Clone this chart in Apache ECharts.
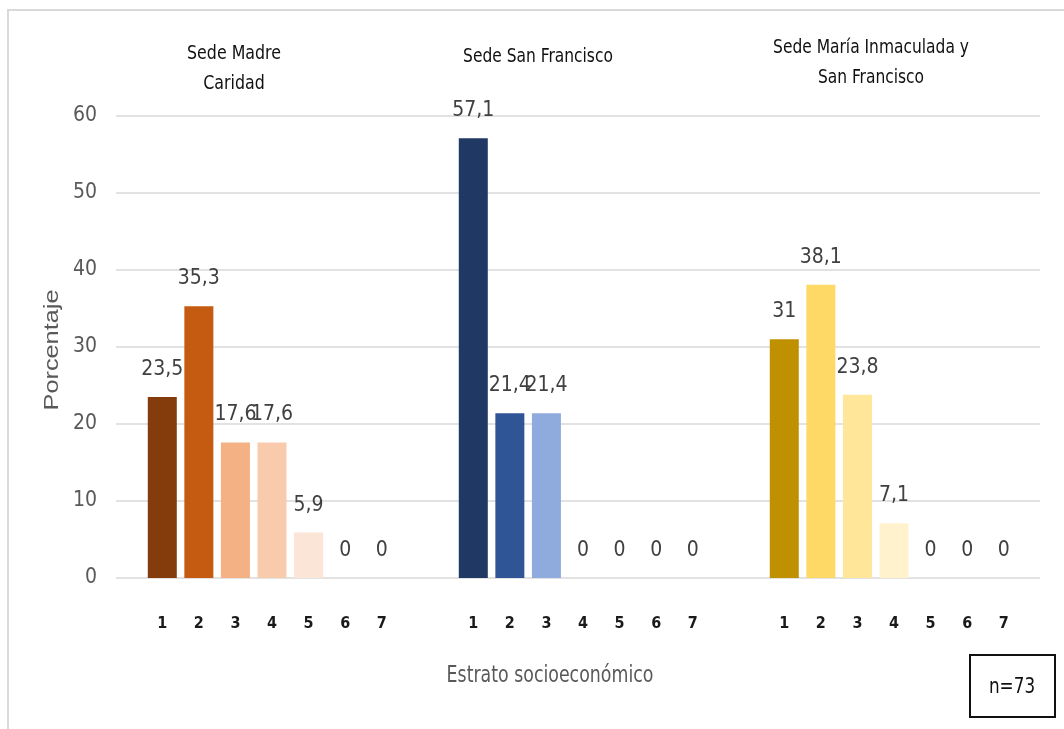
<!DOCTYPE html>
<html>
<head>
<meta charset="utf-8">
<script src="https://cdn.jsdelivr.net/npm/echarts@6/dist/echarts.min.js"></script>
<style>
html,body{margin:0;padding:0;background:#fff;}
#chart{width:1064px;height:729px;}
</style>
</head>
<body>
<div id="chart"></div>
<script>
// ---- data ----
const categories = ['1', '2', '3', '4', '5', '6', '7'];
const groupTitles = ['Sede Madre\nCaridad', 'Sede San Francisco', 'Sede María Inmaculada y\nSan Francisco'];
const sedeMadreCaridad = [23.5, 35.3, 17.6, 17.6, 5.9, 0, 0];
const sedeSanFrancisco = [57.1, 21.4, 21.4, 0, 0, 0, 0];
const sedeMariaInmaculada = [31, 38.1, 23.8, 7.1, 0, 0, 0];
const colorsMadre = ['#843C0C', '#C55A11', '#F4B183', '#F8CBAD', '#FBE5D6', '#FBE5D6', '#FBE5D6'];
const colorsSanFrancisco = ['#203864', '#2F5597', '#8FAADC', '#DAE3F3', '#DAE3F3', '#DAE3F3', '#DAE3F3'];
const colorsMaria = ['#BF9000', '#FFD966', '#FFE699', '#FFF2CC', '#FFF2CC', '#FFF2CC', '#FFF2CC'];
const yMin = 0, yMax = 60, yInterval = 10;
const yAxisTitle = 'Porcentaje';
const xAxisTitle = 'Estrato socioeconómico';
const sampleNote = 'n=73';

const FONT = "'Liberation Sans Narrow', 'DejaVu Sans Condensed', sans-serif";
const chart = echarts.init(document.getElementById('chart'), null, {renderer: 'canvas'});

const groups = [
  {data: sedeMadreCaridad, colors: colorsMadre, left: 144},
  {data: sedeSanFrancisco, colors: colorsSanFrancisco, left: 455},
  {data: sedeMariaInmaculada, colors: colorsMaria, left: 766}
];
const PLOT_TOP = 116, PLOT_H = 462, GROUP_W = 256;

const grids = [{left: 116, top: PLOT_TOP, width: 924, height: PLOT_H, outerBoundsMode: 'none', containLabel: false}];
const xAxes = [{gridIndex: 0, type: 'value', show: false, min: 0, max: 1}];
const yAxes = [{
  gridIndex: 0, type: 'value', min: yMin, max: yMax, interval: yInterval,
  axisLine: {show: false}, axisTick: {show: false},
  axisLabel: {color: '#595959', fontFamily: FONT, fontSize: 21, margin: 19},
  splitLine: {lineStyle: {color: '#d9d9d9', width: 1.5}}
}];
const series = [];
groups.forEach((g, i) => {
  const gi = i + 1;
  grids.push({left: g.left, top: PLOT_TOP, width: GROUP_W, height: PLOT_H, outerBoundsMode: 'none', containLabel: false});
  xAxes.push({
    gridIndex: gi, type: 'category', data: categories,
    axisLine: {show: false}, axisTick: {show: false},
    axisLabel: {color: '#1a1a1a', fontFamily: FONT, fontSize: 16, fontWeight: 'bold', margin: 38}
  });
  yAxes.push({gridIndex: gi, type: 'value', min: yMin, max: yMax, interval: yInterval, show: false, splitLine: {show: false}});
  series.push({
    type: 'bar', xAxisIndex: gi, yAxisIndex: gi, barWidth: 29,
    data: g.data.map((v, k) => ({value: v, itemStyle: {color: g.colors[k]}})),
    label: {
      show: true, position: 'top', distance: 17, color: '#404040', fontFamily: FONT, fontSize: 21,
      formatter: p => String(p.value).replace('.', ',')
    },
    animation: false
  });
});

const titleStyle = {fontFamily: FONT, fontSize: 20, fill: '#111', align: 'center', verticalAlign: 'middle', lineHeight: 30};
const option = {
  animation: false,
  backgroundColor: '#fff',
  grid: grids, xAxis: xAxes, yAxis: yAxes, series: series,
  graphic: [
    {type: 'rect', shape: {x: 8, y: 10, width: 1080, height: 740}, style: {fill: 'none', stroke: '#d9d9d9', lineWidth: 2}, silent: true},
    {type: 'text', x: 234, y: 69, scaleX: 0.88, style: Object.assign({text: groupTitles[0]}, titleStyle)},
    {type: 'text', x: 538, y: 57, scaleX: 0.86, style: Object.assign({text: groupTitles[1]}, titleStyle)},
    {type: 'text', x: 871, y: 63, scaleX: 0.86, style: Object.assign({text: groupTitles[2]}, titleStyle)},
    {type: 'text', x: 550, y: 676, scaleX: 0.84, style: {text: xAxisTitle, fontFamily: FONT, fontSize: 23, fill: '#595959', align: 'center', verticalAlign: 'middle'}},
    {type: 'text', x: 53, y: 350, rotation: Math.PI / 2, scaleX: 1.1, scaleY: 0.85, style: {text: yAxisTitle, fontFamily: "'Liberation Sans', Arial, sans-serif", fontSize: 23, fill: '#595959', align: 'center', verticalAlign: 'middle'}},
    {type: 'rect', shape: {x: 970, y: 655, width: 85, height: 62}, style: {fill: '#fff', stroke: '#111', lineWidth: 2}},
    {type: 'text', x: 1012, y: 687, scaleX: 0.85, style: {text: sampleNote, fontFamily: FONT, fontSize: 22, fill: '#111', align: 'center', verticalAlign: 'middle'}}
  ]
};
chart.setOption(option);
</script>
</body>
</html>
